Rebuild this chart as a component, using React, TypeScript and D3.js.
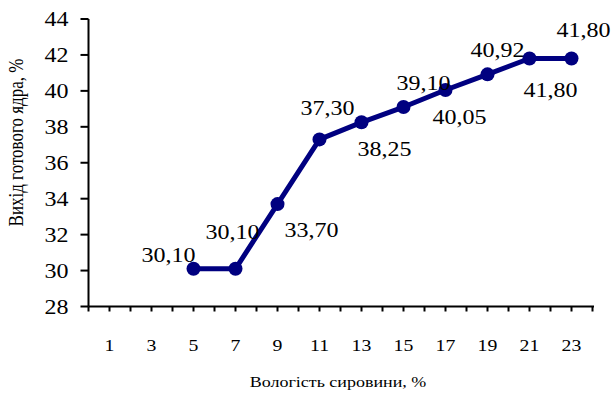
import React from "react";
import * as d3 from "d3";

// Moisture of raw material, % (category axis)
const categories = ["1", "3", "5", "7", "9", "11", "13", "15", "17", "19", "21", "23"];
// Categories that carry a measured value
const pointCategories = ["5", "7", "9", "11", "13", "15", "17", "19", "21", "23"];
// Yield of finished kernel, %
const yieldValues = [30.1, 30.1, 33.7, 37.3, 38.25, 39.1, 40.05, 40.92, 41.8, 41.8];
const yTicks = [28, 30, 32, 34, 36, 38, 40, 42, 44];

// Label placement around each marker: [dx of label centre, dy of baseline]
const labelOffsets: [number, number][] = [
  [-25, -7],
  [-3, -30],
  [34, 33],
  [8, -24],
  [23, 34],
  [20, -17],
  [14, 34],
  [10, -17],
  [21, 38],
  [12, -22],
];

const W = 611;
const H = 394;
const left = 88.5;
const right = 592.5;
const top = 19;
const bottom = 306.5;
const SX = 1.2; // horizontal text stretch
const FONT = "'Liberation Serif', 'Times New Roman', serif";
const LINE_COLOR = "#000080";

const fmt = (v: number) => v.toFixed(2).replace(".", ",");

export default function App() {
  const x = d3.scaleBand<string>().domain(categories).range([left, right]).padding(0);
  const y = d3.scaleLinear().domain([28, 44]).range([bottom, top]);
  const cx = (c: string) => (x(c) as number) + x.bandwidth() / 2;

  const pts = pointCategories.map((c, i) => ({ c, v: yieldValues[i], px: cx(c), py: y(yieldValues[i]) }));
  const line = d3
    .line<{ px: number; py: number }>()
    .x((d) => d.px)
    .y((d) => d.py);

  // tick marks on category boundaries and centres
  const half = x.bandwidth() / 2;
  const xTickPositions = d3.range(categories.length * 2 + 1).map((k) => left + k * half);

  return (
    <svg
      width={W}
      height={H}
      viewBox={`0 0 ${W} ${H}`}
      style={{ position: "absolute", left: 0, top: 0, background: "#fff" }}
      fontFamily={FONT}
    >
      <rect width={W} height={H} fill="#fff" />
      {/* y axis */}
      <line x1={left} x2={left} y1={top} y2={bottom} stroke="#000" strokeWidth={2} />
      {yTicks.map((t) => (
        <g key={t}>
          <line x1={left - 8} x2={left} y1={y(t)} y2={y(t)} stroke="#000" strokeWidth={2} />
          <text
            transform={`translate(${left - 20},${y(t) + 7}) scale(${SX},1)`}
            textAnchor="end"
            fontSize={20}
            fill="#000"
          >
            {t}
          </text>
        </g>
      ))}
      {/* x axis */}
      <line x1={left} x2={right + 1.5} y1={bottom} y2={bottom} stroke="#000" strokeWidth={2} />
      {xTickPositions.map((p, k) => (
        <line key={k} x1={p} x2={p} y1={bottom} y2={bottom + 5} stroke="#000" strokeWidth={2} />
      ))}
      {categories.map((c) => (
        <text
          key={c}
          transform={`translate(${cx(c)},${350.5}) scale(${SX},1)`}
          textAnchor="middle"
          fontSize={16.5}
          fill="#000"
        >
          {c}
        </text>
      ))}
      {/* axis titles */}
      <text
        transform={`translate(338,387) scale(${SX},1)`}
        textAnchor="middle"
        fontSize={15}
        fill="#000"
      >
        Вологість сировини, %
      </text>
      <text
        transform={`translate(22.5,142.5) rotate(-90) scale(1,${SX})`}
        textAnchor="middle"
        fontSize={17}
        fill="#000"
      >
        Вихід готового ядра, %
      </text>
      {/* series */}
      <path d={line(pts) ?? ""} fill="none" stroke={LINE_COLOR} strokeWidth={5} strokeLinejoin="round" />
      {pts.map((p) => (
        <circle key={p.c} cx={p.px} cy={p.py} r={7} fill={LINE_COLOR} />
      ))}
      {pts.map((p, i) => (
        <text
          key={`l${p.c}`}
          transform={`translate(${p.px + labelOffsets[i][0]},${p.py + labelOffsets[i][1]}) scale(${SX},1)`}
          textAnchor="middle"
          fontSize={20}
          fill="#000"
        >
          {fmt(p.v)}
        </text>
      ))}
    </svg>
  );
}
